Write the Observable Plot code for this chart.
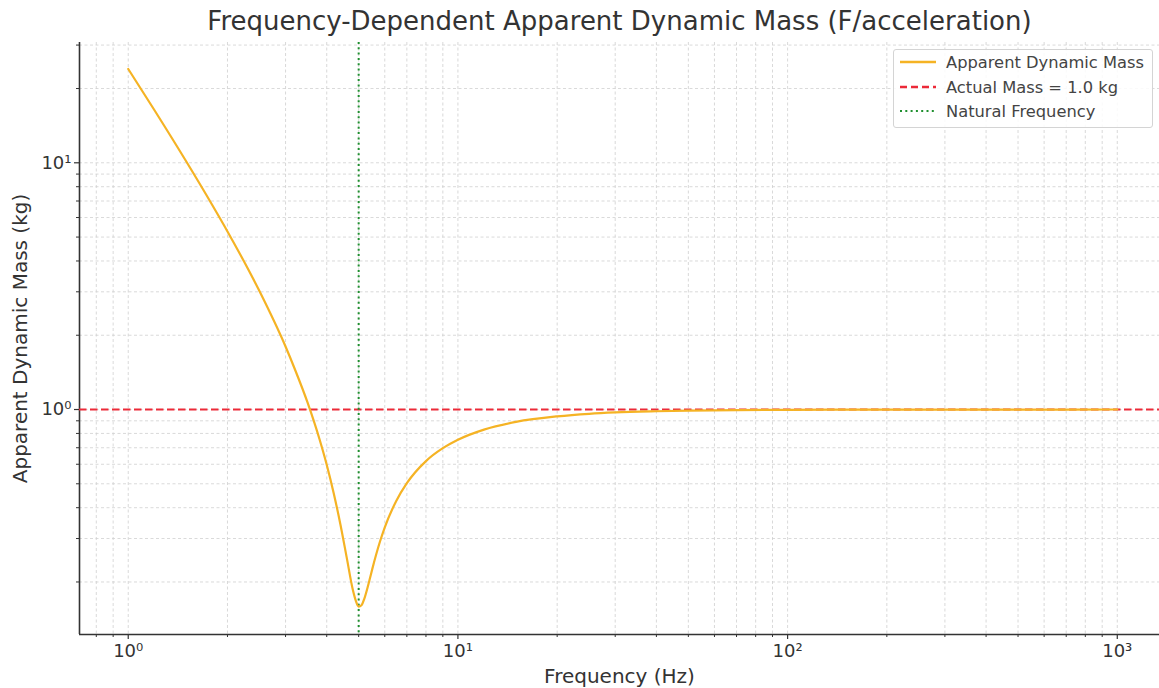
<!DOCTYPE html>
<html>
<head>
<meta charset="utf-8">
<script src="https://cdn.jsdelivr.net/npm/d3@7"></script>
<script src="https://cdn.jsdelivr.net/npm/@observablehq/plot@0.6"></script>
<style>
  html, body { margin: 0; padding: 0; background: #fff; }
  #wrap { position: relative; width: 1159px; height: 688px; font-family: "DejaVu Sans", sans-serif; }
  #legend {
    position: absolute; left: 893px; top: 49px; width: 260px; height: 79px;
    border: 1px solid #d4d4d4; border-radius: 3px; background: rgba(255,255,255,0.85);
    box-sizing: border-box; font-size: 16.3px; color: #444;
  }
  .item { position: absolute; left: 5px; height: 22px; display: flex; align-items: center; }
  .item svg { width: 38px; height: 10px; margin-right: 9px; }
</style>
</head>
<body>
<div id="wrap">
  <div id="chart"></div>
  <div id="legend">
    <div class="item" style="top:1px"><svg><line x1="1" x2="37" y1="5" y2="5" stroke="#f5b324" stroke-width="2.5"/></svg><span>Apparent Dynamic Mass</span></div>
    <div class="item" style="top:26px"><svg><line x1="1" x2="37" y1="5" y2="5" stroke="#ec2a38" stroke-width="2.5" stroke-dasharray="7,4"/></svg><span>Actual Mass = 1.0 kg</span></div>
    <div class="item" style="top:50px"><svg><line x1="1" x2="37" y1="5" y2="5" stroke="#1f8f2f" stroke-width="2" stroke-dasharray="2,3.3"/></svg><span>Natural Frequency</span></div>
  </div>
</div>
<script>
// ---- data ----
const freq = [1, 1.2, 1.5, 1.8, 2, 2.5, 3, 3.2, 3.5, 3.8, 4, 4.2, 4.4, 4.6, 4.8, 4.9, 5, 5.1, 5.2, 5.4, 5.5, 5.8, 6, 6.5, 7, 8, 9, 10, 12, 15, 20, 25, 30, 40, 50, 70, 100, 150, 200, 300, 500, 700, 1000];
const mass = [24.0, 16.37, 10.12, 6.73, 5.27, 3.02, 1.80, 1.46, 1.066, 0.761, 0.597, 0.458, 0.343, 0.251, 0.186, 0.168, 0.159, 0.161, 0.171, 0.205, 0.226, 0.291, 0.333, 0.426, 0.503, 0.618, 0.697, 0.754, 0.829, 0.891, 0.938, 0.961, 0.973, 0.984, 0.990, 0.995, 0.9975, 0.9989, 0.9994, 0.9997, 0.9999, 0.99995, 1.0];
const actualMass = [1.0];
const naturalFreq = [5];
const xMajorTicks = [1, 10, 100, 1000];
const xTickLabels = ["10⁰", "10¹", "10²", "10³"];
const yMajorTicks = [1, 10];
const yTickLabels = ["10⁰", "10¹"];
const minorMultiples = [2, 3, 4, 5, 6, 7, 8, 9];

const xDomain = [0.7115, 1343];
const yDomain = [0.1225, 30.73];

const xGrid = [];
[0.1, 1, 10, 100, 1000].forEach(d => [1, ...minorMultiples].forEach(m => { const v = d * m; if (v >= xDomain[0] && v <= xDomain[1]) xGrid.push(v); }));
const yGrid = [];
[0.1, 1, 10].forEach(d => [1, ...minorMultiples].forEach(m => { const v = d * m; if (v >= yDomain[0] && v <= yDomain[1]) yGrid.push(v); }));
const xMinor = xGrid.filter(v => !xMajorTicks.includes(v));
const yMinor = yGrid.filter(v => !yMajorTicks.includes(v));

const data = freq.map((f, i) => ({ f, m: mass[i] }));

const chart = Plot.plot({
  width: 1159,
  height: 688,
  marginTop: 42,
  marginBottom: 54,
  marginLeft: 79,
  marginRight: 0,
  style: { fontFamily: "DejaVu Sans, sans-serif", background: "#fff", color: "#333" },
  x: { type: "log", domain: xDomain, axis: null, label: null },
  y: { type: "log", domain: yDomain, axis: null, label: null },
  marks: [
    Plot.ruleX(xGrid, { stroke: "#cfcfcf", strokeWidth: 0.8, strokeDasharray: "3,2.5" }),
    Plot.ruleY(yGrid, { stroke: "#cfcfcf", strokeWidth: 0.8, strokeDasharray: "3,2.5" }),
    Plot.axisX(xMinor, { label: null, tickSize: 3, tickFormat: () => "", stroke: "#333", strokeWidth: 1 }),
    Plot.axisX(xMajorTicks, { label: null, tickSize: 5, tickPadding: 5, tickFormat: d => xTickLabels[xMajorTicks.indexOf(d)], fontSize: 18, fill: "#333", stroke: "#333", strokeWidth: 1.2 }),
    Plot.axisY(yMinor, { label: null, tickSize: 3, tickFormat: () => "", stroke: "#333", strokeWidth: 1 }),
    Plot.axisY(yMajorTicks, { label: null, tickSize: 5, tickPadding: 3, tickFormat: d => yTickLabels[yMajorTicks.indexOf(d)], fontSize: 18, fill: "#333", stroke: "#333", strokeWidth: 1.2 }),
    Plot.ruleX([xDomain[0]], { stroke: "#333", strokeWidth: 1.6 }),
    Plot.ruleY([yDomain[0]], { stroke: "#333", strokeWidth: 1.6 }),
    Plot.ruleY(actualMass, { stroke: "#ec2a38", strokeWidth: 2.2, strokeDasharray: "7.5,3.5" }),
    Plot.ruleX(naturalFreq, { stroke: "#1f8f2f", strokeWidth: 2, strokeDasharray: "2,3.3" }),
    Plot.line(data, { x: "f", y: "m", stroke: "#f5b324", strokeWidth: 2.2, curve: "monotone-x" }),
    Plot.text(["Frequency-Dependent Apparent Dynamic Mass (F/acceleration)"], { frameAnchor: "top", dy: -31, fontSize: 26, fill: "#333" }),
    Plot.text(["Frequency (Hz)"], { frameAnchor: "bottom", dy: 48, fontSize: 20, fill: "#333" }),
    Plot.text(["Apparent Dynamic Mass (kg)"], { frameAnchor: "left", textAnchor: "middle", rotate: -90, dx: -59, fontSize: 20, fill: "#333" })
  ]
});
document.getElementById("chart").appendChild(chart);
</script>
</body>
</html>
